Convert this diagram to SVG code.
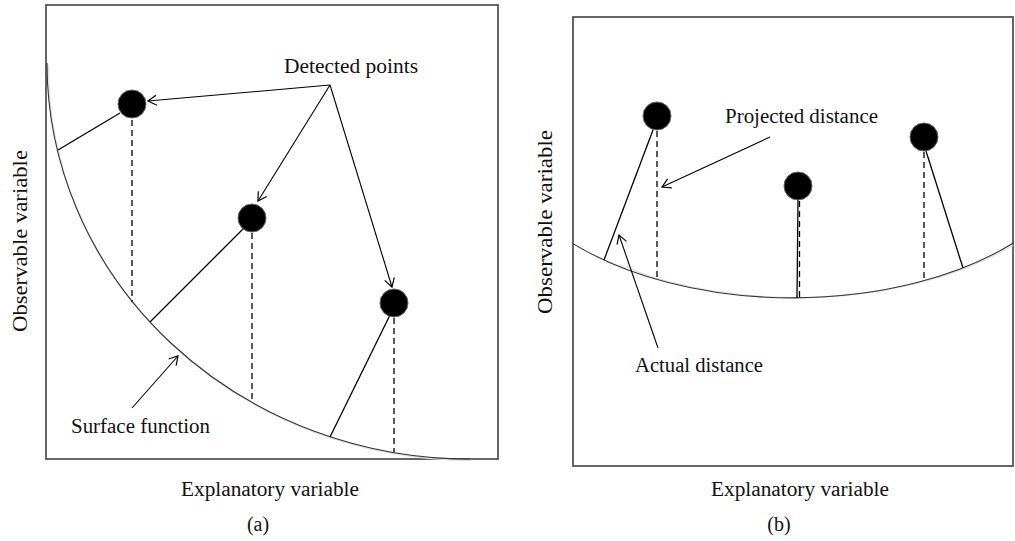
<svg xmlns="http://www.w3.org/2000/svg" width="1015" height="541" viewBox="0 0 1015 541">
<style>
.frame{fill:none;stroke:#555;stroke-width:1.8}
.curve{fill:none;stroke:#333;stroke-width:1.1}
.shadow{fill:none;stroke:#e2e2e2;stroke-width:1.3}
.solid{stroke:#000;stroke-width:1.3;fill:none}
.dash{stroke:#000;stroke-width:1.3;stroke-dasharray:6,4;fill:none}
.arrow{stroke:#000;stroke-width:1.1;fill:none;marker-end:url(#ah)}
.pt{fill:#000;stroke:#666;stroke-width:1}
text{font-family:"Liberation Serif","Times New Roman",serif;font-size:20px;fill:#111}
</style>
<defs>
<marker id="ah" markerWidth="12" markerHeight="12" refX="10" refY="6" orient="auto" markerUnits="userSpaceOnUse">
<path d="M1.5,1 L10,6 L1.5,11" fill="none" stroke="#000" stroke-width="1.2"/>
</marker>
</defs>
<rect width="1015" height="541" fill="#fff"/>

<g id="panel-a">
<rect class="frame" x="46" y="5" width="452" height="454"/>
<path class="shadow" d="M 48.5 65 A 423 394 0 0 0 471.5 460.5"/>
<path class="curve" d="M 47 63 A 423 396 0 0 0 470 459"/>
</g>

<g id="panel-b">
<rect class="frame" x="573" y="17" width="440" height="449"/>
<path class="shadow" d="M 620 265 A 300 170 0 0 0 1013 245.5"/>
<path class="curve" d="M 573 243.6 A 300 170 0 0 0 1013 243.3"/>
</g>

<g id="connectors">
<line class="solid" x1="120" y1="113" x2="58" y2="150"/>
<line class="dash" x1="132" y1="120" x2="132" y2="302"/>
<line class="solid" x1="244" y1="228" x2="150" y2="322"/>
<line class="dash" x1="252" y1="233" x2="252" y2="402"/>
<line class="solid" x1="390" y1="315" x2="330" y2="437"/>
<line class="dash" x1="394" y1="318" x2="394" y2="452"/>

<line class="arrow" x1="330" y1="85" x2="148" y2="101"/>
<line class="arrow" x1="330" y1="85" x2="258" y2="201"/>
<line class="arrow" x1="330" y1="85" x2="392" y2="287"/>
<line class="arrow" x1="132" y1="408" x2="178" y2="356"/>

<line class="solid" x1="653" y1="130" x2="604" y2="260"/>
<line class="dash" x1="657" y1="131" x2="657" y2="279"/>
<line class="solid" x1="798" y1="200" x2="797" y2="298"/>
<line class="dash" x1="799.5" y1="201" x2="799.5" y2="298"/>
<line class="solid" x1="926" y1="151" x2="963" y2="268"/>
<line class="dash" x1="924" y1="152" x2="924" y2="281"/>

<line class="arrow" x1="770" y1="137" x2="662" y2="187"/>
<line class="arrow" x1="658" y1="348" x2="619" y2="235"/>
</g>

<g id="point-a1"><circle class="pt" cx="132" cy="104" r="14"/></g>
<g id="point-a2"><circle class="pt" cx="252" cy="218" r="14"/></g>
<g id="point-a3"><circle class="pt" cx="394" cy="303" r="14"/></g>
<g id="point-b1"><circle class="pt" cx="657" cy="116" r="14"/></g>
<g id="point-b2"><circle class="pt" cx="798" cy="186" r="14"/></g>
<g id="point-b3"><circle class="pt" cx="924" cy="137" r="14"/></g>

<g id="labels">
<text x="284" y="73" textLength="134" lengthAdjust="spacingAndGlyphs">Detected points</text>
<text x="71" y="433" textLength="139" lengthAdjust="spacingAndGlyphs">Surface function</text>
<text x="725" y="123" textLength="153" lengthAdjust="spacingAndGlyphs">Projected distance</text>
<text x="635" y="372" textLength="128" lengthAdjust="spacingAndGlyphs">Actual distance</text>
<text x="181" y="496" textLength="178" lengthAdjust="spacingAndGlyphs">Explanatory variable</text>
<text x="711" y="496" textLength="178" lengthAdjust="spacingAndGlyphs">Explanatory variable</text>
<text x="258" y="531" text-anchor="middle">(a)</text>
<text x="779" y="531" text-anchor="middle">(b)</text>
<text transform="translate(27,241) rotate(-90)" x="-91" y="0" textLength="182" lengthAdjust="spacingAndGlyphs">Observable variable</text>
<text transform="translate(552,222) rotate(-90)" x="-92" y="0" textLength="184" lengthAdjust="spacingAndGlyphs">Observable variable</text>
</g>
</svg>
